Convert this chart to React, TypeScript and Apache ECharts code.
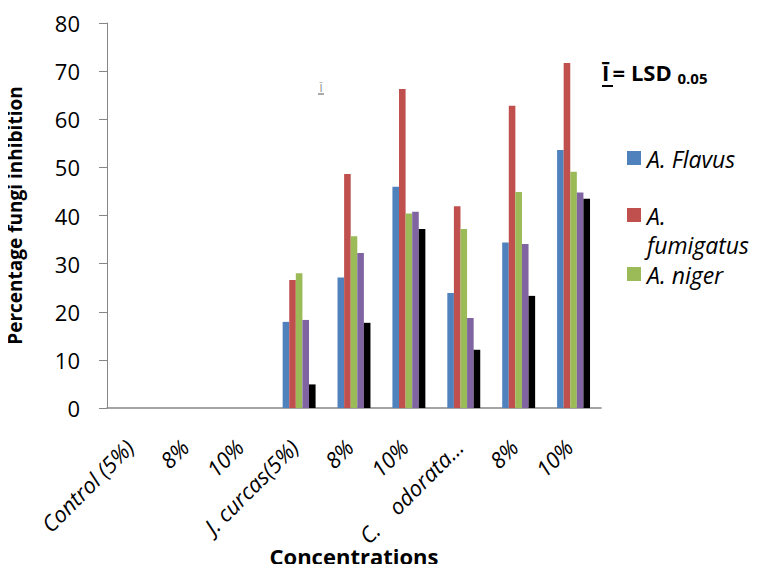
import React, { useEffect, useRef } from "react";
import * as echarts from "echarts";

const categories = [
  "Control (5%)",
  "8%",
  "10%",
  "J. curcas(5%)",
  "8%",
  "10%",
  "C.    odorata…",
  "8%",
  "10%",
];

const seriesNames = ["A. Flavus", "A. fumigatus", "A. niger", "Series 4", "Series 5"];
const flavus = [0, 0, 0, 17.9, 27.1, 46.0, 23.9, 34.4, 53.6];
const fumigatus = [0, 0, 0, 26.6, 48.6, 66.3, 41.9, 62.8, 71.7];
const niger = [0, 0, 0, 28.0, 35.7, 40.4, 37.2, 44.9, 49.1];
const series4 = [0, 0, 0, 18.3, 32.2, 40.8, 18.7, 34.1, 44.8];
const series5 = [0, 0, 0, 4.9, 17.7, 37.2, 12.1, 23.3, 43.5];
const seriesValues = [flavus, fumigatus, niger, series4, series5];
const colors = ["#4F81BD", "#C0504D", "#9BBB59", "#8064A2", "#000000"];
const yTicks = { min: 0, max: 80, interval: 10 };

const FONT = "'Open Sans', 'Noto Sans', sans-serif";

export default function App() {
  const ref = useRef<HTMLDivElement>(null);
  useEffect(() => {
    if (!ref.current) return;
    const chart = echarts.init(ref.current, null, { renderer: "svg" });
    const legendItems = [
      { y: 158, text: "A. Flavus", color: colors[0] },
      { y: 215, text: "A.\nfumigatus", color: colors[1] },
      { y: 274, text: "A. niger", color: colors[2] },
    ];
    const graphic: any[] = [];
    legendItems.forEach((it) => {
      graphic.push({
        type: "rect",
        shape: { x: 627, y: it.y - 7, width: 14, height: 14 },
        style: { fill: it.color },
      });
      graphic.push({
        type: "text",
        x: 647,
        y: it.y - 14,
        style: {
          text: it.text,
          font: `italic 23px ${FONT}`,
          lineHeight: 29,
          fill: "#000",
          textVerticalAlign: "top",
        },
      });
    });
    // LSD annotation
    graphic.push({
      type: "text",
      x: 602,
      y: 72,
      style: {
        text: "{a|Ī} {b|= LSD }{c|0.05}",
        rich: {
          a: { font: `bold 22px ${FONT}`, fill: "#000" },
          b: { font: `bold 22px ${FONT}`, fill: "#000" },
          c: { font: `bold 15px ${FONT}`, fill: "#000", padding: [12, 0, 0, 0] },
        },
        textVerticalAlign: "middle",
      },
    });
    graphic.push({
      type: "line",
      shape: { x1: 602, y1: 86, x2: 613, y2: 86 },
      style: { stroke: "#000", lineWidth: 2 },
    });
    // small error-bar glyph
    graphic.push({
      type: "text",
      x: 321,
      y: 87,
      style: {
        text: "Ī",
        font: `11px ${FONT}`,
        fill: "#888",
        textAlign: "center",
        textVerticalAlign: "middle",
      },
    });
    graphic.push({
      type: "line",
      shape: { x1: 318, y1: 94, x2: 324, y2: 94 },
      style: { stroke: "#555", lineWidth: 1 },
    });

    chart.setOption({
      animation: false,
      color: colors,
      grid: {
        left: 107,
        right: 162,
        top: 23,
        bottom: 164,
        containLabel: false,
        outerBoundsMode: "none",
      },
      xAxis: {
        type: "category",
        data: categories,
        name: "Concentrations",
        nameLocation: "middle",
        nameGap: 137,
        nameMoveOverlap: false,
        nameTextStyle: { fontFamily: FONT, fontWeight: "bold", fontSize: 22, color: "#000" },
        axisLine: { lineStyle: { color: "#868686", width: 1.5 } },
        axisTick: { show: false },
        axisLabel: {
          rotate: 45,
          interval: 0,
          margin: 30,
          padding: [0, 7, 0, 0],
          fontFamily: FONT,
          fontStyle: "italic",
          fontSize: 22,
          color: "#000",
        },
      },
      yAxis: {
        type: "value",
        min: yTicks.min,
        max: yTicks.max,
        interval: yTicks.interval,
        name: "Percentage fungi inhibition",
        nameLocation: "middle",
        nameRotate: 90,
        nameGap: 83,
        nameMoveOverlap: false,
        nameTextStyle: { fontFamily: FONT, fontWeight: "bold", fontSize: 19, color: "#000" },
        axisLine: { show: true, lineStyle: { color: "#868686", width: 1 } },
        axisTick: { show: true, length: 8, lineStyle: { color: "#868686" } },
        splitLine: { show: false },
        axisLabel: { margin: 27, fontFamily: FONT, fontSize: 22, color: "#000" },
      },
      legend: { show: false },
      series: seriesValues.map((vals, i) => ({
        name: seriesNames[i],
        type: "bar",
        data: vals,
        barGap: "0%",
        barCategoryGap: "40%",
        itemStyle: { color: colors[i] },
      })),
      graphic,
    });
    return () => chart.dispose();
  }, []);
  return <div ref={ref} style={{ width: 763, height: 572, margin: -8 }} />;
}
